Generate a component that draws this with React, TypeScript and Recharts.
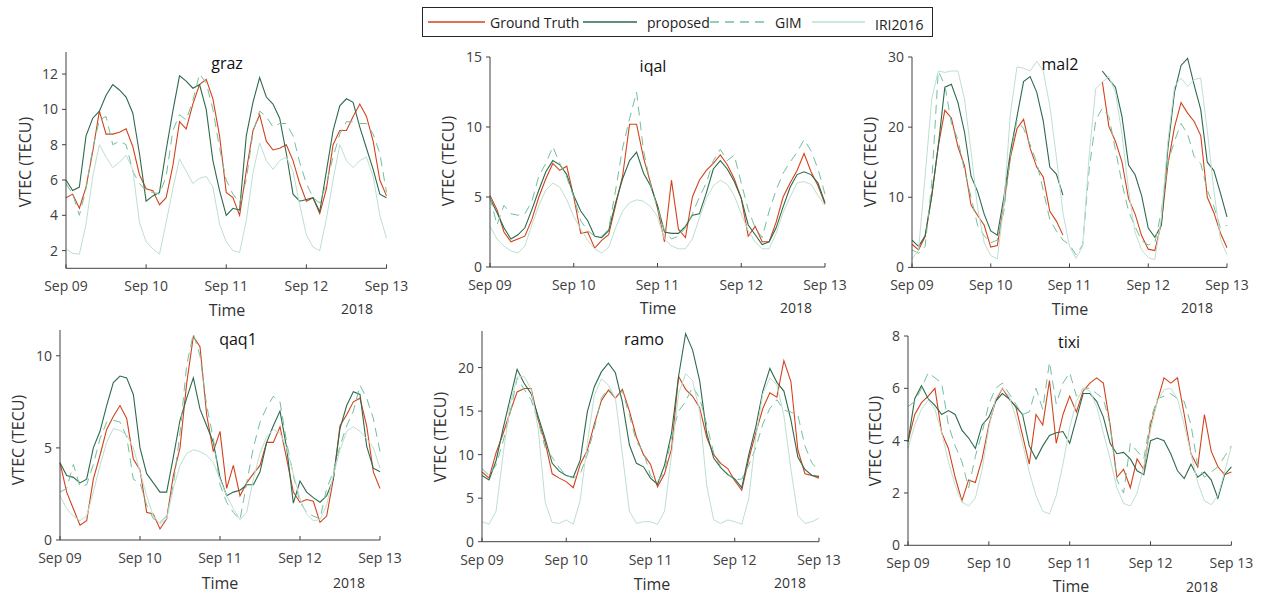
import React from 'react';
import { LineChart, Line, XAxis, YAxis } from 'recharts';

// hours since Sep 09 00:00, sampled every 2 h
const hours = [
  0, 2, 4, 6, 8, 10, 12, 14, 16, 18, 20, 22, 24, 26, 28, 30, 32, 34, 36, 38, 40, 42, 44, 46, 48,
  50, 52, 54, 56, 58, 60, 62, 64, 66, 68, 70, 72, 74, 76, 78, 80, 82, 84, 86, 88, 90, 92, 94, 96,
];
const dayTicks = [0, 24, 48, 72, 96];
const dayLabels = ['Sep 09', 'Sep 10', 'Sep 11', 'Sep 12', 'Sep 13'];
const seriesNames = ['Ground Truth', 'proposed', 'GIM', 'IRI2016'];

const grazTruth = [
  5.0, 5.2, 4.4, 5.6, 7.6, 9.9, 8.6, 8.6, 8.7, 8.9, 7.9, 6.3,
  5.5, 5.4, 4.6, 5.0, 6.8, 9.3, 8.9, 10.3, 11.4, 11.7, 10.6, 8.5,
  5.3, 5.0, 4.0, 6.5, 8.8, 9.7, 8.2, 7.7, 7.8, 8.0, 7.1, 5.8,
  4.8, 5.0, 4.1, 5.5, 8.0, 8.8, 8.8, 9.6, 10.3, 9.6, 8.2, 6.0, 5.1,
];
const grazProposed = [
  6.0, 5.4, 5.6, 8.5, 9.5, 9.9, 10.8, 11.4, 11.1, 10.7, 9.8, 7.5,
  4.8, 5.1, 5.3, 7.7, 9.9, 11.9, 11.6, 11.2, 11.4, 10.0, 7.1, 5.4,
  4.0, 4.4, 4.3, 8.5, 10.4, 11.8, 10.7, 10.3, 9.5, 7.5, 5.2, 4.8,
  4.9, 5.0, 4.2, 6.5, 8.8, 10.2, 10.6, 10.4, 9.0, 7.8, 6.6, 5.2, 5.0,
];
const grazGim = [
  5.8, 5.2, 4.0, 5.5, 7.8, 9.4, 9.6, 8.0, 8.2, 8.0, 6.5, 5.8,
  5.4, 5.3, 5.2, 6.2, 8.8, 9.7, 9.4, 10.5, 12.0, 11.5, 10.0, 7.8,
  6.0, 5.2, 4.7, 6.0, 8.7, 9.9, 9.6, 9.0, 9.2, 9.2, 8.5, 7.0,
  5.8, 5.0, 4.7, 5.8, 7.3, 8.6, 9.3, 9.3, 9.2, 9.2, 8.6, 7.5, 5.3,
];
const grazIri = [
  2.1, 1.85, 1.8, 3.5, 6.2, 8.0, 7.3, 6.7, 7.0, 7.4, 6.6, 3.6,
  2.5, 2.1, 1.8, 3.6, 5.5, 7.2, 6.5, 5.8, 6.1, 6.2, 5.6, 3.5,
  2.5, 2.0, 1.9, 3.7, 6.4, 8.1, 7.1, 6.6, 7.1, 7.3, 6.5, 4.6,
  2.9, 2.2, 2.0, 3.8, 6.0, 8.0, 7.1, 6.7, 7.1, 7.3, 6.2, 4.0, 2.7,
];

const iqalTruth = [
  5.1, 4.1, 2.5, 1.8, 2.0, 2.2, 3.4, 5.0, 6.3, 7.4, 6.9, 7.2,
  5.0, 2.4, 2.5, 1.35, 1.9, 2.3, 4.4, 6.5, 10.2, 10.2, 7.8, 6.0,
  4.2, 1.8, 6.2, 2.7, 2.1, 5.0, 6.2, 6.9, 7.4, 8.0, 7.3, 6.3,
  4.9, 2.2, 2.9, 1.8, 1.8, 3.2, 5.0, 6.0, 6.9, 8.1, 6.8, 5.8, 4.5,
];
const iqalProposed = [
  4.9, 3.9, 2.8, 2.0, 2.3, 2.8, 4.1, 5.5, 6.8, 7.6, 7.3, 6.6,
  5.1, 4.0, 3.3, 2.2, 2.1, 2.6, 4.6, 6.3, 7.6, 8.2, 6.7, 5.8,
  4.4, 2.5, 2.4, 2.4, 2.9, 3.7, 3.8, 5.3, 7.0, 7.6, 7.0, 6.1,
  4.9, 3.0, 2.3, 1.6, 1.8, 2.8, 4.3, 5.7, 6.6, 6.8, 6.6, 6.0, 4.6,
];
const iqalGim = [
  5.0, 3.0, 4.4, 3.8, 3.7, 3.8, 4.7, 6.5, 7.4, 8.6, 7.4, 6.4,
  5.0, 3.3, 2.6, 2.2, 2.2, 2.7, 5.5, 8.5, 10.6, 12.5, 8.3, 5.9,
  4.2, 2.6, 2.0, 2.2, 2.8, 3.8, 5.0, 6.0, 7.6, 8.4, 7.6, 8.0,
  6.0, 4.1, 2.8, 2.1, 4.0, 5.5, 6.7, 7.5, 8.2, 9.1, 8.3, 7.0, 5.2,
];
const iqalIri = [
  2.9, 2.0, 1.5, 1.15, 1.0, 1.5, 3.0, 4.4, 5.5, 6.0, 5.7, 4.8,
  3.6, 2.7, 1.9, 1.3, 1.0, 1.4, 2.8, 4.0, 4.6, 4.8, 4.7, 4.3,
  3.6, 2.0, 1.5, 1.3, 1.3, 2.0, 3.5, 4.9, 5.8, 6.2, 5.9, 5.1,
  3.8, 2.6, 1.8, 1.3, 1.3, 2.4, 3.9, 5.0, 6.0, 6.1, 5.9, 5.1, 4.4,
];

const mal2Truth = [
  3.3, 2.5, 4.4, 10.1, 17.3, 22.4, 21.3, 17.2, 14.5, 8.9, 7.4, 6.0,
  2.9, 3.1, 9.0, 15.7, 19.8, 21.1, 17.0, 14.3, 12.9, 8.0, 6.6, 4.6,
  null, null, null, null, null, 26.5, 20.1, 18.0, 15.0, 9.8, 7.6, 4.5,
  2.6, 2.4, 6.3, 14.7, 20.0, 23.5, 22.0, 20.8, 18.8, 10.0, 7.8, 4.9, 2.8,
];
const mal2Proposed = [
  3.9, 3.0, 4.5, 10.2, 17.3, 25.7, 26.1, 23.5, 19.3, 13.0, 10.8, 7.6,
  5.2, 4.6, 10.0, 16.5, 21.5, 26.5, 27.2, 25.0, 20.9, 14.3, 13.3, 10.3,
  null, null, null, null, null, 28.0, 26.8, 25.7, 21.5, 14.6, 13.2, 10.2,
  5.6, 4.3, 6.0, 17.0, 25.0, 28.8, 29.8, 26.0, 22.5, 15.0, 13.8, 10.6, 7.2,
];
const mal2Gim = [
  2.5, 2.0, 3.0, 12.0, 28.0, 26.0, 20.6, 18.2, 13.8, 10.0, 6.0, 4.5,
  3.5, 3.9, 8.0, 16.0, 21.0, 19.8, 17.5, 15.0, 11.0, 6.8, 5.2, 3.9,
  3.2, 1.8, 3.2, 14.0, 21.0, 22.7, 21.5, 16.8, 12.0, 8.0, 5.8, 3.8,
  3.2, 3.5, 8.0, 15.0, 18.0, 20.5, 19.0, 15.8, 14.8, 11.0, 8.7, 5.6, 6.0,
];
const mal2Iri = [
  1.2, 2.5, 13.0, 24.0, 28.0, 27.8, 28.0, 28.0, 24.0, 16.5, 8.5, 3.5,
  1.7, 1.2, 9.0, 22.0, 28.6, 28.4, 28.0, 29.4, 28.0, 23.0, 15.8, 7.8,
  3.0, 1.3, 3.0, 16.0, 25.5, 26.4, 27.2, 25.0, 19.0, 11.0, 5.0, 2.5,
  1.4, 1.1, 7.0, 18.0, 25.8, 27.0, 25.8, 26.8, 27.0, 19.5, 11.0, 4.0, 1.8,
];

const qaq1Truth = [
  4.2, 2.6, 1.7, 0.8, 1.05, 3.3, 4.6, 6.0, 6.7, 7.3, 6.6, 4.4,
  3.8, 1.5, 1.4, 0.6, 1.15, 3.5, 5.0, 8.5, 11.05, 10.5, 6.8, 4.8,
  5.9, 2.8, 4.05, 2.4, 3.1, 3.6, 4.05, 5.3, 5.3, 6.15, 4.4, 2.6,
  2.05, 2.2, 2.1, 0.96, 1.3, 3.3, 6.2, 6.8, 7.5, 7.7, 6.2, 3.7, 2.8,
];
const qaq1Proposed = [
  4.2, 3.5, 3.4, 3.1, 3.3, 5.0, 5.9, 7.3, 8.55, 8.9, 8.8, 7.9,
  5.0, 3.6, 3.1, 2.6, 2.6, 4.5, 6.5, 7.7, 8.8, 7.1, 6.2, 5.3,
  3.4, 2.4, 2.6, 2.7, 3.0, 3.0, 3.7, 5.3, 6.2, 7.0, 5.0, 2.0,
  3.2, 2.6, 2.3, 2.05, 2.4, 3.3, 6.05, 7.3, 8.05, 7.9, 5.1, 3.9, 3.7,
];
const qaq1Gim = [
  2.6, 2.8, 4.1, 2.9, 3.0, 4.1, 5.5, 6.4, 6.5, 6.4, 5.6, 3.3,
  3.1, 1.9, 1.15, 0.96, 1.3, 3.0, 5.8, 9.5, 11.2, 10.0, 7.3, 5.5,
  3.0, 2.05, 1.5, 1.1, 3.1, 5.0, 6.4, 7.2, 7.8, 7.5, 5.3, 3.5,
  2.05, 1.5, 1.3, 1.15, 2.8, 3.7, 5.1, 6.2, 7.0, 8.4, 7.7, 6.6, 4.8,
];
const qaq1Iri = [
  2.4, 1.7, 1.3, 1.05, 1.3, 2.6, 4.05, 5.3, 6.05, 5.95, 5.7, 5.0,
  3.7, 2.4, 1.3, 0.87, 1.15, 2.8, 4.05, 4.7, 4.9, 4.8, 4.6, 4.2,
  3.3, 2.4, 1.7, 1.1, 1.5, 3.3, 4.7, 5.6, 6.0, 5.8, 5.0, 3.6,
  2.25, 1.4, 1.05, 1.1, 1.9, 3.5, 4.9, 5.9, 6.15, 5.9, 5.5, 5.0, 3.9,
];

const ramoTruth = [
  8.0, 7.3, 10.2, 12.4, 14.9, 17.2, 17.6, 17.6, 14.0, 11.4, 7.8, 7.3,
  6.9, 6.2, 8.9, 10.5, 13.5, 16.2, 17.4, 16.5, 17.5, 15.0, 12.0, 10.0,
  8.9, 6.3, 7.8, 10.7, 19.0, 17.5, 16.7, 15.4, 12.0, 10.0, 9.0, 8.4,
  7.0, 5.9, 9.5, 12.5, 15.3, 17.1, 16.6, 20.8, 18.4, 10.5, 7.8, 7.6, 7.3,
];
const ramoProposed = [
  7.6, 7.1, 9.3, 13.0, 16.4, 19.8, 18.2, 17.0, 14.4, 11.8, 9.0, 8.1,
  7.6, 7.4, 9.4, 14.9, 17.8, 19.5, 20.5, 19.4, 16.0, 11.1, 9.0, 8.6,
  7.3, 6.6, 8.8, 12.5, 19.0, 23.9, 22.0, 18.5, 12.5, 9.6, 8.5, 7.7,
  7.2, 6.2, 10.0, 13.2, 17.3, 19.9, 18.3, 17.3, 14.0, 9.7, 8.3, 7.6, 7.5,
];
const ramoGim = [
  8.4, 7.6, 8.8, 11.5, 14.7, 18.8, 17.5, 16.3, 13.8, 10.8, 9.7, 8.5,
  7.6, 7.3, 7.8, 10.0, 13.0, 16.5, 17.6, 16.5, 17.3, 14.5, 11.5, 10.3,
  7.6, 6.9, 8.0, 12.0, 15.0, 16.1, 17.8, 16.5, 13.5, 10.2, 8.6, 7.8,
  7.1, 7.2, 8.8, 10.8, 13.5, 15.3, 16.3, 15.1, 14.9, 14.5, 11.0, 9.0, 8.2,
];
const ramoIri = [
  2.3, 2.0, 3.5, 10.0, 15.8, 18.9, 19.0, 17.5, 13.0, 4.5, 2.2, 2.1,
  2.5, 2.0, 4.8, 11.3, 16.8, 18.7, 18.0, 16.5, 10.0, 3.5, 2.1, 2.3,
  2.3, 2.0, 3.5, 10.0, 17.0, 19.3, 18.5, 15.0, 6.5, 2.5, 2.1, 2.5,
  2.3, 2.0, 5.0, 12.0, 17.0, 18.8, 18.0, 14.5, 8.3, 3.0, 2.1, 2.3, 2.7,
];

const tixiTruth = [
  3.95, 5.0, 5.45, 5.7, 6.0, 4.3, 3.7, 2.6, 1.7, 2.5, 2.4, 3.3,
  4.6, 5.5, 6.0, 5.6, 5.3, 4.2, 3.1, 5.0, 4.6, 6.3, 3.9, 5.0,
  5.7, 5.1, 5.9, 6.2, 6.4, 6.2, 4.6, 2.6, 2.9, 2.2, 3.3, 2.9,
  4.6, 5.5, 6.4, 6.2, 6.4, 5.0, 3.5, 3.0, 5.0, 3.6, 3.0, 2.7, 2.8,
];
const tixiProposed = [
  3.95, 5.6, 6.1, 5.6, 5.35, 5.0, 5.15, 5.0, 4.4, 4.1, 3.7, 4.6,
  4.9, 5.5, 5.8, 5.6, 5.3, 5.0, 3.8, 3.3, 3.8, 4.2, 4.3, 4.35,
  3.9, 4.85, 5.8, 5.8, 5.5, 4.9, 3.9, 3.5, 3.55, 3.3, 2.85, 2.7,
  4.0, 4.1, 4.0, 3.5, 2.85, 2.55, 3.1, 2.6, 2.8, 2.5, 1.8, 2.7, 3.0,
];
const tixiGim = [
  5.3, 5.5, 6.0, 6.6, 6.4, 6.2, 4.6, 3.8, 3.2, 2.2, 3.4, 4.3,
  5.4, 6.0, 6.2, 5.8, 5.4, 5.0, 5.1, 6.0, 5.2, 7.0, 5.4, 6.2,
  6.6, 5.7, 6.0, 6.0, 5.8, 5.6, 4.6, 2.5, 2.0, 3.9, 3.6, 3.3,
  4.8, 5.6, 5.7, 5.8, 5.6, 5.5, 4.6, 3.05, 2.6, 2.8, 3.0, 3.4, 3.8,
];
const tixiIri = [
  3.7, 4.6, 5.2, 5.55, 5.2, 4.3, 3.2, 2.3, 1.65, 1.5, 1.8, 2.9,
  4.5, 5.6, 6.0, 5.7, 4.9, 3.9, 2.8, 1.9, 1.3, 1.2, 1.9, 3.1,
  4.5, 5.5, 6.0, 5.9, 5.3, 4.3, 3.3, 2.2, 1.6, 1.5, 2.0, 3.0,
  4.4, 5.5, 5.95, 6.0, 5.6, 4.6, 3.5, 2.4, 1.7, 1.55, 1.9, 2.8, 3.8,
];

const seriesStyle = [
  { key: 'truth', color: '#d2431c', width: 1.1, dash: undefined },
  { key: 'proposed', color: '#2e6a4c', width: 1.1, dash: undefined },
  { key: 'gim', color: '#72bf9c', width: 1, dash: '9 6' },
  { key: 'iri', color: '#bddfd0', width: 1, dash: undefined },
];

const axisColor = '#404040';
const FONT = '"Open Sans", Lato, sans-serif';

const panels = [
  { station: 'graz', series: [grazTruth, grazProposed, grazGim, grazIri], x: 66, y: 51.7, w: 320.5, h: 216.3,
    domain: [1, 13.25], yTicks: [2, 4, 6, 8, 10, 12], title: [227, 63], time: [227, 310], year: [357, 308], ylab: [25, 162] },
  { station: 'iqal', series: [iqalTruth, iqalProposed, iqalGim, iqalIri], x: 490, y: 56.7, w: 335, h: 210,
    domain: [0, 15], yTicks: [0, 5, 10, 15], title: [653, 66], time: [658, 308], year: [796, 307], ylab: [448, 161] },
  { station: 'mal2', series: [mal2Truth, mal2Proposed, mal2Gim, mal2Iri], x: 911.7, y: 57.3, w: 315, h: 210.4,
    domain: [0, 30], yTicks: [0, 10, 20, 30], title: [1060, 64], time: [1070, 309], year: [1197, 307], ylab: [870, 162] },
  { station: 'qaq1', series: [qaq1Truth, qaq1Proposed, qaq1Gim, qaq1Iri], x: 60, y: 330, w: 320, h: 210,
    domain: [0, 11.4], yTicks: [0, 5, 10], title: [238, 339], time: [220, 583], year: [349, 582], ylab: [18, 440] },
  { station: 'ramo', series: [ramoTruth, ramoProposed, ramoGim, ramoIri], x: 482.3, y: 331, w: 337, h: 210.7,
    domain: [0, 24.2], yTicks: [0, 5, 10, 15, 20], title: [644, 339], time: [652, 584], year: [790, 582], ylab: [440, 437] },
  { station: 'tixi', series: [tixiTruth, tixiProposed, tixiGim, tixiIri], x: 908.3, y: 335.7, w: 323.4, h: 209.3,
    domain: [0, 8], yTicks: [0, 2, 4, 6, 8], title: [1069, 342], time: [1071, 586], year: [1202, 586], ylab: [875, 441] },
];

const PAD_L = 60;
const PAD_T = 10;
const PAD_R = 30;
const PAD_B = 34;

function Panel({ p }: { p: any }) {
  const data = hours.map((h, i) => ({
    h,
    truth: p.series[0][i],
    proposed: p.series[1][i],
    gim: p.series[2][i],
    iri: p.series[3][i],
  }));

  return (
    <div style={{ position: 'absolute', left: p.x - PAD_L, top: p.y - PAD_T }}>
      <LineChart
        width={p.w + PAD_L + PAD_R}
        height={p.h + PAD_T + PAD_B}
        data={data}
        margin={{ top: PAD_T, right: PAD_R, bottom: 0, left: 0 }}
      >
        <XAxis
          dataKey="h"
          type="number"
          domain={[0, 96]}
          ticks={dayTicks}
          interval={0}
          height={PAD_B}
          tickFormatter={(v: number) => dayLabels[dayTicks.indexOf(v)]}
          tickSize={-4}
          tickMargin={17}
          stroke={axisColor}
          tick={{ fill: axisColor, fontSize: 14 }}
        />
        <YAxis
          type="number"
          domain={p.domain}
          ticks={p.yTicks}
          interval={0}
          allowDataOverflow
          width={PAD_L}
          tickSize={4}
          tickMargin={4}
          stroke={axisColor}
          tick={{ fill: axisColor, fontSize: 14 }}
        />
        {seriesStyle.map((s) => (
          <Line
            key={s.key}
            dataKey={s.key}
            type="linear"
            stroke={s.color}
            strokeWidth={s.width}
            strokeDasharray={s.dash}
            dot={false}
            activeDot={false}
            isAnimationActive={false}
          />
        ))}
      </LineChart>
    </div>
  );
}

export default function App() {
  const legendItems = [
    { x1: 428, x2: 485, tx: 490, ty: 22 },
    { x1: 583, x2: 637, tx: 647, ty: 22 },
    { x1: 710, x2: 768, tx: 775, ty: 22 },
    { x1: 812, x2: 865, tx: 875, ty: 24 },
  ];

  return (
    <div style={{ position: 'absolute', left: 0, top: 0, width: 1267, height: 596, background: '#fff', fontFamily: FONT }}>
      {panels.map((p) => (
        <Panel key={p.station} p={p} />
      ))}

      <svg width={1267} height={596} style={{ position: 'absolute', left: 0, top: 0, pointerEvents: 'none' }}>
        {panels.map((p) => (
          <g key={p.station} fontFamily={FONT} fontWeight={400}>
            <text x={p.title[0]} y={p.title[1]} textAnchor="middle" dominantBaseline="central" fontSize={16} fill="#111">
              {p.station}
            </text>
            <text x={p.time[0]} y={p.time[1]} textAnchor="middle" dominantBaseline="central" fontSize={16} fill="#333">
              Time
            </text>
            <text x={p.year[0]} y={p.year[1]} textAnchor="middle" dominantBaseline="central" fontSize={14} fill="#333">
              2018
            </text>
            <text
              x={p.ylab[0]}
              y={p.ylab[1]}
              textAnchor="middle"
              dominantBaseline="central"
              fontSize={16}
              fill="#333"
              transform={`rotate(-90 ${p.ylab[0]} ${p.ylab[1]})`}
            >
              VTEC (TECU)
            </text>
          </g>
        ))}

        <rect x={422.5} y={7.5} width={510} height={29} fill="#fff" stroke="#262626" strokeWidth={1} />
        {legendItems.map((it, i) => (
          <g key={seriesNames[i]}>
            <line
              x1={it.x1}
              x2={it.x2}
              y1={22}
              y2={22}
              stroke={seriesStyle[i].color}
              strokeWidth={1.3}
              strokeDasharray={seriesStyle[i].dash}
            />
            <text x={it.tx} y={it.ty} dominantBaseline="central" fontSize={14} fill="#222" fontFamily={FONT} fontWeight={400}>
              {seriesNames[i]}
            </text>
          </g>
        ))}
      </svg>
    </div>
  );
}
